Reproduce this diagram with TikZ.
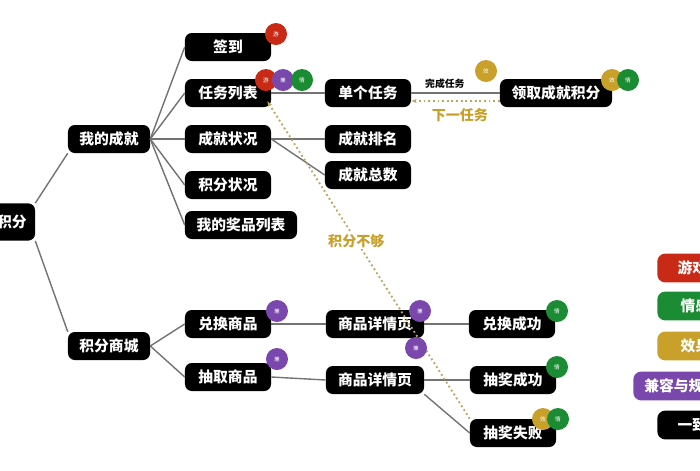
\documentclass[tikz,border=0pt]{standalone}
\usepackage{fontspec}
\newfontfamily\cjk{Noto Sans CJK SC}
\usepackage{xcolor}
\definecolor{tagred}{RGB}{200,42,22}
\definecolor{taggreen}{RGB}{28,140,52}
\definecolor{taggold}{RGB}{200,160,42}
\definecolor{tagpurple}{RGB}{122,72,172}
\definecolor{lkgray}{RGB}{115,115,115}
\definecolor{hintgold}{RGB}{185,165,95}
\definecolor{hinttext}{RGB}{200,160,40}
\usetikzlibrary{arrows.meta,positioning,calc}

\begin{document}
\begin{tikzpicture}[x=0.025cm, y=-0.025cm,
    box/.style={rectangle, rounded corners=0.17cm, fill=black, text=white,
      minimum width=2.15cm, minimum height=0.7cm, inner sep=2pt,
      font=\cjk\bfseries\fontsize{10.5}{12}\selectfont},
    badge/.style={circle, minimum size=0.55cm, inner sep=0pt, text=white,
      font=\cjk\fontsize{4}{5}\selectfont},
    tag/.style={rectangle, rounded corners=0.2cm, minimum height=0.72cm, anchor=west,
      text=white, font=\cjk\bfseries\fontsize{10.5}{12}\selectfont},
    link/.style={draw=lkgray, line width=1pt},
    hint/.style={draw=hintgold, dotted, line width=1.3pt},
    hinttxt/.style={text=hinttext, font=\cjk\bfseries\fontsize{10}{12}\selectfont}
  ]
    \useasboundingbox (0,0) rectangle (700,470);
    \clip (0,0) rectangle (700,470);

    % main tree
    \node[box, minimum width=1.15cm, minimum height=0.93cm] (root) at (12,222) {积分};
    \node[box, minimum width=2.05cm] (ach)  at (109,139) {我的成就};
    \node[box, minimum width=2.05cm] (mall) at (109,346) {积分商城};

    \node[box] (sign)   at (228,47)  {签到};
    \node[box] (tasks)  at (228,93)  {任务列表};
    \node[box] (stat)   at (228,139) {成就状况};
    \node[box] (pts)    at (228,185) {积分状况};
    \node[box, minimum width=2.8cm] (prize) at (241,225) {我的奖品列表};

    \node[box] (task)   at (368,93)  {单个任务};
    \node[box] (rank)   at (368,139) {成就排名};
    \node[box] (total)  at (368,175) {成就总数};
    \node[box, minimum width=2.8cm] (claim) at (556,93) {领取成就积分};

    \node[box] (swap)   at (228,324) {兑换商品};
    \node[box] (draw)   at (228,377) {抽取商品};
    \node[box, minimum width=2.45cm] (detA) at (375,324) {商品详情页};
    \node[box, minimum width=2.45cm] (detB) at (375,380) {商品详情页};
    \node[box] (swapok) at (512,324) {兑换成功};
    \node[box] (drawok) at (513,380) {抽奖成功};
    \node[box] (drawno) at (513,433) {抽奖失败};

    \draw[link] (root.north east) -- (ach.south west);
    \draw[link] (root.south east) -- (mall.north west);
    \foreach \c in {sign,tasks,stat,pts,prize}
      \draw[link] (ach.east) -- (\c.west);
    \draw[link] (mall.east) -- (swap.west);
    \draw[link] (mall.east) -- (draw.west);
    \draw[link] (tasks.east) -- (task.west);
    \draw[link] (stat.east) -- (rank.west);
    \draw[link] (stat.east) -- (total.west);
    \draw[link] (task.east) -- node[pos=0.38, above=-1pt, font=\cjk\bfseries\fontsize{7}{8}\selectfont] (done) {完成任务} (claim.west);
    \draw[link] (swap.east) -- (detA.west);
    \draw[link] (detA.east) -- (swapok.west);
    \draw[link] (draw.east) -- (detB.west);
    \draw[link] (detB.east) -- (drawok.west);
    \draw[link] (detB.south east) -- (drawno.west);

    % dotted hints
    \draw[hint, -{Stealth[length=4pt,width=3pt]}] ($(claim.west)+(0,8)$) -- ($(task.east)+(0,8)$)
      node[pos=0.45, below=1pt, hinttxt] (next) {下一任务};
    \draw[hint, -{Stealth[length=4pt,width=3pt]}] (drawno.north west) -- ($(tasks.south east)+(-4,-6)$)
      node[pos=0.56, fill=white, inner sep=1pt, hinttxt] (lack) {积分不够};

    % badges
    \node[badge, fill=tagred]    (b1)  at (276,34)  {游};
    \node[badge, fill=tagred]    (b2)  at (266,80)  {游};
    \node[badge, fill=tagpurple] (b3)  at (283,80)  {兼};
    \node[badge, fill=taggreen]  (b4)  at (302,80)  {情};
    \node[badge, fill=taggold]   (b5)  at (486,71)  {效};
    \node[badge, fill=taggold]   (b6)  at (612,80)  {效};
    \node[badge, fill=taggreen]  (b7)  at (628,80)  {情};
    \node[badge, fill=tagpurple] (b8)  at (277,311) {兼};
    \node[badge, fill=tagpurple] (b9)  at (277,359) {兼};
    \node[badge, fill=tagpurple] (b10) at (420,311) {兼};
    \node[badge, fill=tagpurple] (b11) at (416,348) {兼};
    \node[badge, fill=taggreen]  (b12) at (557,311) {情};
    \node[badge, fill=taggreen]  (b13) at (557,367) {情};
    \node[badge, fill=taggold]   (b14) at (543,419) {效};
    \node[badge, fill=taggreen]  (b15) at (558,419) {情};

    % legend
    \node[tag, fill=tagred,    minimum width=2.12cm] (lgA) at (657,268) {游戏化};
    \node[tag, fill=taggreen,  minimum width=2.28cm] (lgB) at (657,306) {情感化};
    \node[tag, fill=taggold,   minimum width=2.28cm] (lgC) at (657,346) {效果化};
    \node[tag, fill=tagpurple, minimum width=2.4cm]  (lgD) at (633,386) {兼容与规范};
    \node[tag, fill=black,     minimum width=2.12cm] (lgE) at (657,425) {一致性};
  \end{tikzpicture}
\end{document}
